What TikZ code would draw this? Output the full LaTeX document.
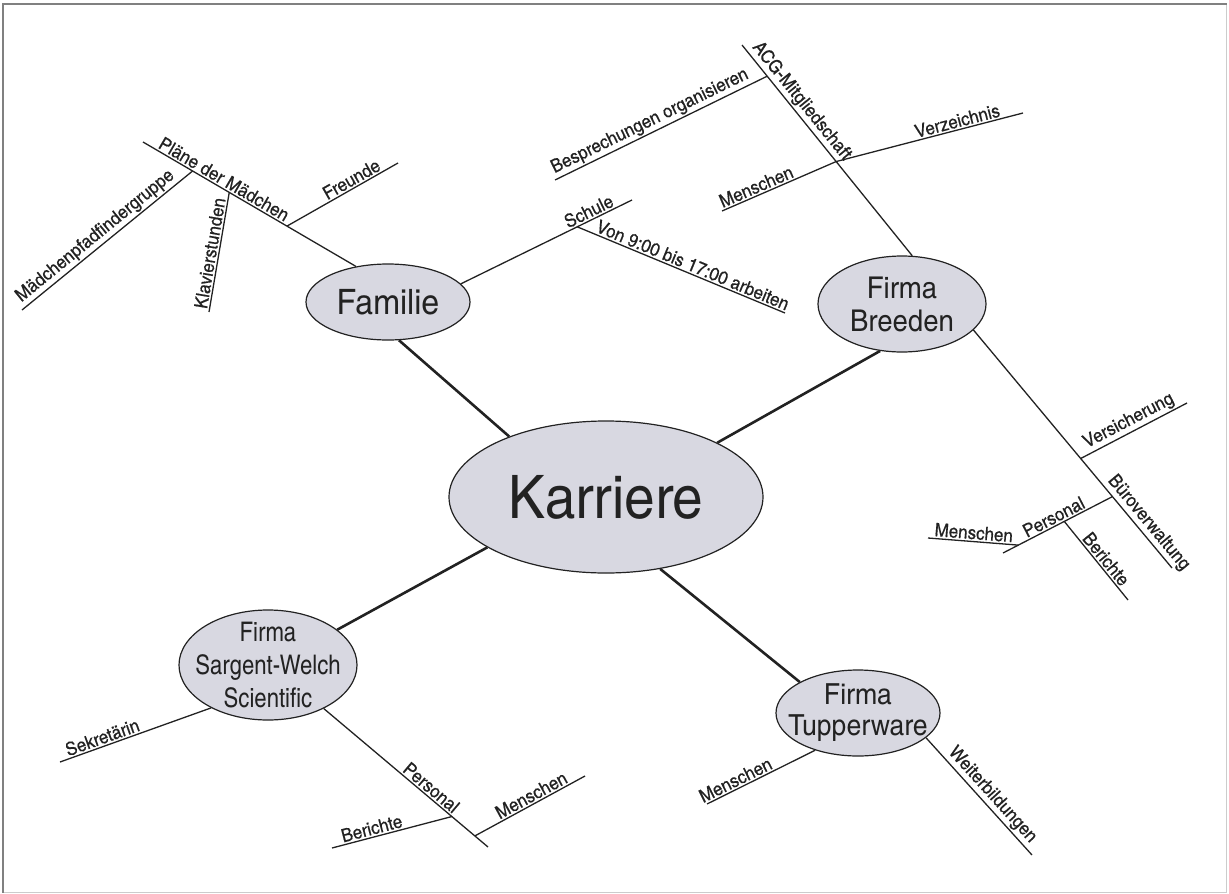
\documentclass[tikz,border=0pt]{standalone}
\usepackage{fontspec}
\setmainfont[FakeStretch=1.12]{TeX Gyre Heros Cn}
\newfontfamily\labfont[FakeStretch=1.12,FakeBold=0.5]{TeX Gyre Heros Cn}
\newfontfamily\cnfont{TeX Gyre Heros Cn}
\usetikzlibrary{shapes.geometric}
\definecolor{bub}{RGB}{216,216,225}
\definecolor{ink}{RGB}{34,34,34}
\begin{document}
\begin{tikzpicture}[x=1pt,y=-1pt,
  bubble/.style={ellipse,draw=ink,line width=1.2pt,fill=bub,inner sep=-15pt,align=center,text=ink},
  mainline/.style={line width=2.6pt,draw=ink},
  branch/.style={line width=1.3pt,draw=ink},
  lab/.style={sloped,above,inner sep=1.5pt,font=\labfont\fontsize{18.5}{21}\selectfont,text=ink}]
\useasboundingbox (0,0) rectangle (1229,894);
\draw[gray!40,line width=1pt] (2.5,3.5) rectangle (1226.5,892.5);
\draw[gray,line width=2pt] (2.5,892.5) -- (2.5,3.5) -- (1226.5,3.5);

% bubbles
\node[bubble,minimum width=314,minimum height=152,font=\fontsize{60}{60}\selectfont] (K) at (606,497) {Karriere};
\node[bubble,minimum width=164,minimum height=76,font=\fontsize{35}{35}\selectfont] (F) at (388,302) {Familie};
\node[bubble,minimum width=168,minimum height=96,font=\fontsize{30}{33}\selectfont] (B) at (902,304) {Firma\\Breeden};
\node[bubble,minimum width=178,minimum height=110,font=\cnfont\fontsize{27}{33}\selectfont] (S) at (268,665) {Firma\\Sargent-Welch\\Scientific};
\node[bubble,minimum width=164,minimum height=86,font=\fontsize{29}{31}\selectfont] (T) at (858,713) {Firma\\Tupperware};

% main connectors
\draw[mainline] (K.148) -- (F.286);
\draw[mainline] (K.26) -- (B.245);
\draw[mainline] (K.203) -- (S.27);
\draw[mainline] (K.307) -- (T.152);

% Familie
\coordinate (pl1) at (143,142);
\draw[branch] (pl1) -- (F.132) node[lab,pos=0.36]{Pläne der Mädchen}
  coordinate[pos=0.233] (jMp) coordinate[pos=0.405] (jKl) coordinate[pos=0.676] (jFr);
\coordinate (mpE) at (22,310);
\draw[branch] (mpE) -- (jMp) node[lab,pos=0.47]{Mädchenpfadfindergruppe};
\coordinate (klE) at (209,312);
\draw[branch] (klE) -- (jKl) node[lab,pos=0.48]{Klavierstunden};
\coordinate (frE) at (398,163);
\draw[branch] (jFr) -- (frE) node[lab,pos=0.62]{Freunde};
\coordinate (scE) at (632,200);
\draw[branch] (F.14) -- (scE) node[lab,pos=0.77]{Schule} coordinate[pos=0.68] (jVo);
\coordinate (voE) at (785,313);
\draw[branch] (jVo) -- (voE) node[lab,pos=0.54]{Von 9:00 bis 17:00 arbeiten};

% Breeden upper
\coordinate (acE) at (742,45);
\draw[branch] (acE) -- (B.78) node[lab,pos=0.3]{ACG-Mitgliedschaft}
  coordinate[pos=0.148] (jBe) coordinate[pos=0.553] (jMe);
\coordinate (beE) at (555,180);
\draw[branch] (beE) -- (jBe) node[lab,pos=0.47]{Besprechungen organisieren};
\coordinate (meE1) at (722,211);
\draw[branch] (meE1) -- (jMe) node[lab,pos=0.33]{Menschen};
\coordinate (vzE) at (1023,113);
\draw[branch] (jMe) -- (vzE) node[lab,pos=0.66]{Verzeichnis};

% Breeden lower
\coordinate (buE) at (1172,568);
\draw[branch] (B.340) -- (buE) node[lab,pos=0.84]{Büroverwaltung}
  coordinate[pos=0.54] (jVe) coordinate[pos=0.70] (jPe);
\coordinate (veE) at (1187,403);
\draw[branch] (jVe) -- (veE) node[lab,pos=0.5]{Versicherung};
\coordinate (peE) at (1003,553);
\draw[branch] (peE) -- (jPe) node[lab,pos=0.5]{Personal}
  coordinate[pos=0.14] (jMe2) coordinate[pos=0.56] (jBr);
\coordinate (meE2) at (928,538);
\draw[branch] (meE2) -- (jMe2) node[lab,pos=0.5]{Menschen};
\coordinate (brE) at (1128,600);
\draw[branch] (jBr) -- (brE) node[lab,pos=0.55]{Berichte};

% Sargent-Welch
\coordinate (skE) at (60,762);
\draw[branch] (skE) -- (S.217) node[lab,pos=0.3]{Sekretärin};
\coordinate (psE) at (488,847);
\draw[branch] (S.322) -- (psE) node[lab,pos=0.62]{Personal}
  coordinate[pos=0.78] (jBr2) coordinate[pos=0.92] (jMe3);
\coordinate (brE2) at (332,848);
\draw[branch] (brE2) -- (jBr2) node[lab,pos=0.35]{Berichte};
\coordinate (meE3) at (585,776);
\draw[branch] (jMe3) -- (meE3) node[lab,pos=0.55]{Menschen};

% Tupperware
\coordinate (tmE) at (707,804);
\draw[branch] (tmE) -- (T.221) node[lab,pos=0.3]{Menschen};
\coordinate (wbE) at (1032,855);
\draw[branch] (T.340) -- (wbE) node[lab,pos=0.55]{Weiterbildungen};
\end{tikzpicture}
\end{document}
